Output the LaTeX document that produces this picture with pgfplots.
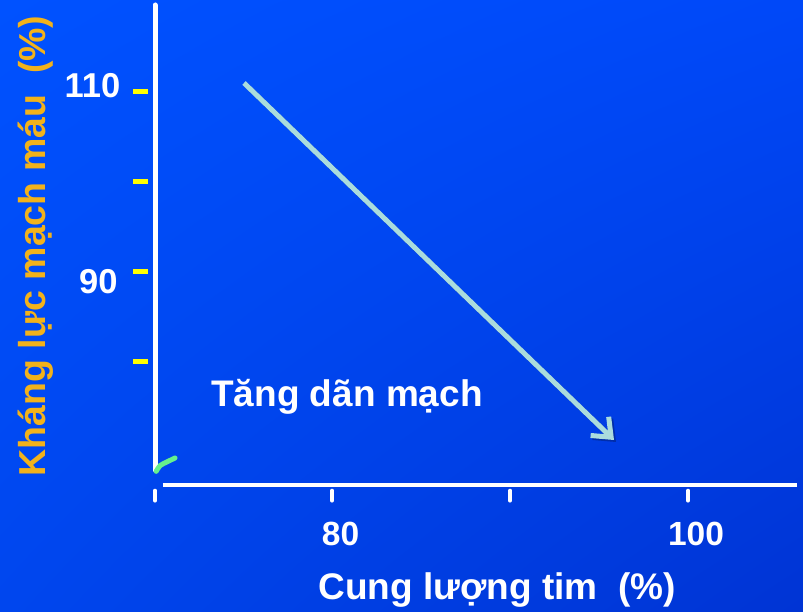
\documentclass[border=0pt]{standalone}
\usepackage{pgfplots}
\pgfplotsset{compat=1.18}
\usepackage{fontspec}
\setmainfont{Liberation Sans}
\usetikzlibrary{arrows.meta,shadings}
\definecolor{ulc}{HTML}{0052FF}
\definecolor{urc}{HTML}{0048F8}
\definecolor{llc}{HTML}{0046EE}
\definecolor{lrc}{HTML}{0034D4}
\definecolor{arrowc}{HTML}{AADCDD}
\definecolor{ylab}{HTML}{F2B21B}
\definecolor{tickyel}{HTML}{FFFF00}
\definecolor{greenm}{HTML}{66F08C}
\begin{document}
\begin{tikzpicture}[x=1bp,y=1bp]
\shade[upper left=ulc,upper right=urc,lower left=llc,lower right=lrc] (0,0) rectangle (803,611);
\begin{axis}[at={(0,0)},anchor=south west,scale only axis,
  width=803bp,height=611bp,
  xmin=61.348,xmax=106.46,ymin=52.333,ymax=120.222,
  hide axis,clip=false]
% axis lines
\draw[white,line width=5bp,line cap=round] (axis cs:70.056,119.667) -- (axis cs:70.056,68.0);
\draw[white,line width=4bp] (axis cs:70.505,66.333) -- (axis cs:106.124,66.333);
\foreach \xx in {70.056,80,90,100}{
  \edef\tmp{\noexpand\draw[white,line width=4bp,line cap=round] (axis cs:\xx,65.7) -- (axis cs:\xx,64.6);}\tmp}
\foreach \yy in {80,90,100,110}{
  \edef\tmp{\noexpand\draw[tickyel,line width=5bp] (axis cs:68.82,\yy) -- (axis cs:69.663,\yy);}\tmp}
% tick labels
\node[anchor=base east,white,font=\fontsize{34.5bp}{37bp}\selectfont\bfseries] at (axis cs:68.3,109.4) {110};
\node[anchor=base east,white,font=\fontsize{34.5bp}{37bp}\selectfont\bfseries] at (axis cs:68.15,87.556) {90};
\node[anchor=base,white,font=\fontsize{33.5bp}{36bp}\selectfont\bfseries] at (axis cs:80.48,59.6) {80};
\node[anchor=base,white,font=\fontsize{33.5bp}{36bp}\selectfont\bfseries] at (axis cs:100.449,59.6) {100};
% axis labels
\node[anchor=base,white,font=\fontsize{37bp}{40bp}\selectfont\bfseries] at (axis cs:89.27,53.556) {Cung lượng tim\ \ (\%)};
\node[anchor=base,rotate=90,ylab,font=\fontsize{37.5bp}{40bp}\selectfont\bfseries] at (axis cs:63.876,92.9) {Kháng lực mạch máu\ \ (\%)};
% annotation
\node[anchor=base,white,font=\fontsize{37bp}{40bp}\selectfont\bfseries] at (axis cs:80.842,75.0) {Tăng dãn mạch};
% arrow shadow and arrow
\addplot[black,opacity=0.25,line width=5bp,xshift=2bp,yshift=-2bp,-{Straight Barb[length=16bp,width=26bp]}] coordinates {(75.056,111.0) (95.842,71.333)};
\addplot[arrowc,line width=5bp,-{Straight Barb[length=16bp,width=26bp]}] coordinates {(75.056,111.0) (95.842,71.333)};
% small green mark
\addplot[greenm,line width=5bp,line cap=round,smooth] coordinates {(70.12,67.85) (70.35,68.5) (70.73,68.9) (71.18,69.333)};
\end{axis}
\end{tikzpicture}
\end{document}
